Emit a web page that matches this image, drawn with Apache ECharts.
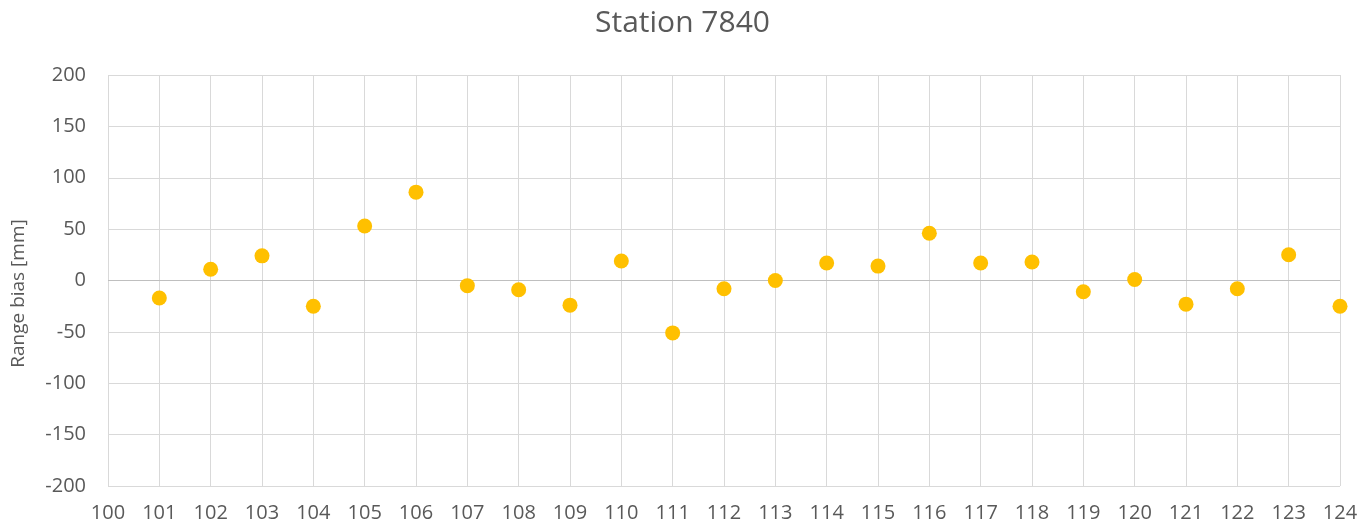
<!DOCTYPE html>
<html>
<head>
<meta charset="utf-8">
<title>Station 7840</title>
<script src="https://cdn.jsdelivr.net/npm/echarts@6/dist/echarts.min.js"></script>
<style>
  html, body { margin: 0; padding: 0; background: #fff; }
  #chart { width: 1365px; height: 529px; }
</style>
</head>
<body>
<div id="chart"></div>
<script>
// 数据
var stations = [101, 102, 103, 104, 105, 106, 107, 108, 109, 110, 111, 112,
  113, 114, 115, 116, 117, 118, 119, 120, 121, 122, 123, 124];
var rangeBias = [-17, 11, 24, -25, 53, 86, -5, -9, -24, 19, -51, -8,
  0, 17, 14, 46, 17, 18, -11, 1, -23, -8, 25, -25];
var xTicks = [100, 124, 1];
var yTicks = [-200, 200, 50];

(function () {
  var myChart = echarts.init(document.getElementById("chart"));
  var textColor = "#595959";
  var fontFamily = "'Open Sans', 'Noto Sans', sans-serif";

  var points = stations.map(function (s, i) {
    return [s, rangeBias[i]];
  });

  var option = {
    animation: false,
    title: {
      text: "Station 7840",
      left: "center",
      top: 3,
      textStyle: {
        color: textColor,
        fontSize: 30,
        fontWeight: "normal",
        fontFamily: fontFamily,
      },
    },
    grid: {
      left: 108,
      right: 25,
      top: 75,
      bottom: 43,
      outerBoundsMode: "none",
    },
    xAxis: {
      type: "value",
      min: xTicks[0],
      max: xTicks[1],
      interval: xTicks[2],
      axisLine: { show: false },
      axisTick: { show: false },
      axisLabel: {
        color: textColor,
        fontSize: 20,
        fontFamily: fontFamily,
        margin: 17,
      },
      splitLine: {
        lineStyle: { color: "#d9d9d9", width: 1 },
      },
    },
    yAxis: {
      type: "value",
      min: yTicks[0],
      max: yTicks[1],
      interval: yTicks[2],
      name: "Range bias [mm]",
      nameLocation: "middle",
      nameGap: 80,
      nameTextStyle: {
        color: textColor,
        fontSize: 19,
        fontFamily: fontFamily,
        padding: [0, 26, 0, 0],
      },
      axisLine: { show: false },
      axisTick: { show: false },
      axisLabel: {
        color: textColor,
        fontSize: 20,
        fontFamily: fontFamily,
        margin: 22,
      },
      splitLine: {
        lineStyle: { color: "#d9d9d9", width: 1 },
      },
    },
    series: [
      {
        type: "scatter",
        data: points,
        symbol: "circle",
        symbolSize: 15,
        itemStyle: { color: "#ffc000", opacity: 1 },
        // 零线
        markLine: {
          silent: true,
          symbol: "none",
          label: { show: false },
          lineStyle: { color: "#bfbfbf", type: "solid", width: 1 },
          data: [{ yAxis: 0 }],
          z: 1,
        },
      },
    ],
  };

  myChart.setOption(option);
  window.addEventListener("resize", function () {
    myChart.resize();
  });
})();
</script>
</body>
</html>
